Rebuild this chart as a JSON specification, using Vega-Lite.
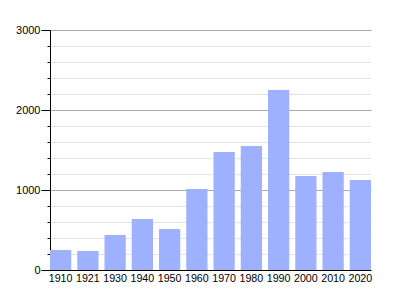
{
  "$schema": "https://vega.github.io/schema/vega-lite/v6.json",
  "width": 321,
  "height": 240,
  "autosize": {"type": "none"},
  "padding": {"left": 50, "top": 30, "right": 29, "bottom": 30},
  "background": "white",
  "data": {"values": [
    {"year": "1910", "pop": 250},
    {"year": "1921", "pop": 238},
    {"year": "1930", "pop": 438},
    {"year": "1940", "pop": 638},
    {"year": "1950", "pop": 512},
    {"year": "1960", "pop": 1012},
    {"year": "1970", "pop": 1475},
    {"year": "1980", "pop": 1550},
    {"year": "1990", "pop": 2250},
    {"year": "2000", "pop": 1175},
    {"year": "2010", "pop": 1225},
    {"year": "2020", "pop": 1125}
  ]},
  "config": {"view": {"stroke": null}},
  "mark": {"type": "bar", "color": "#9eb1ff"},
  "encoding": {
    "x": {
      "field": "year", "type": "nominal", "sort": null,
      "scale": {"paddingInner": 0.22, "paddingOuter": 0},
      "axis": {
        "title": null, "labelAngle": 0, "ticks": false,
        "domainColor": "#000", "labelColor": "#000",
        "labelFont": "Liberation Sans", "labelFontSize": 10.7, "labelPadding": 3
      }
    },
    "y": {
      "field": "pop", "type": "quantitative",
      "scale": {"domain": [0, 3000], "nice": false},
      "axis": {
        "title": null,
        "values": [0, 200, 400, 600, 800, 1000, 1200, 1400, 1600, 1800, 2000, 2200, 2400, 2600, 2800, 3000],
        "labelExpr": "datum.value % 1000 === 0 ? datum.value : ''",
        "gridColor": {"condition": {"test": "datum.value % 1000 === 0", "value": "#aaaaaa"}, "value": "#e2e2e2"},
        "tickSize": {"condition": {"test": "datum.value % 1000 === 0", "value": 9}, "value": 3},
        "tickColor": "#000", "domainColor": "#000",
        "labelColor": "#000", "labelFont": "Liberation Sans", "labelFontSize": 11,
        "labelPadding": 1
      }
    }
  }
}
